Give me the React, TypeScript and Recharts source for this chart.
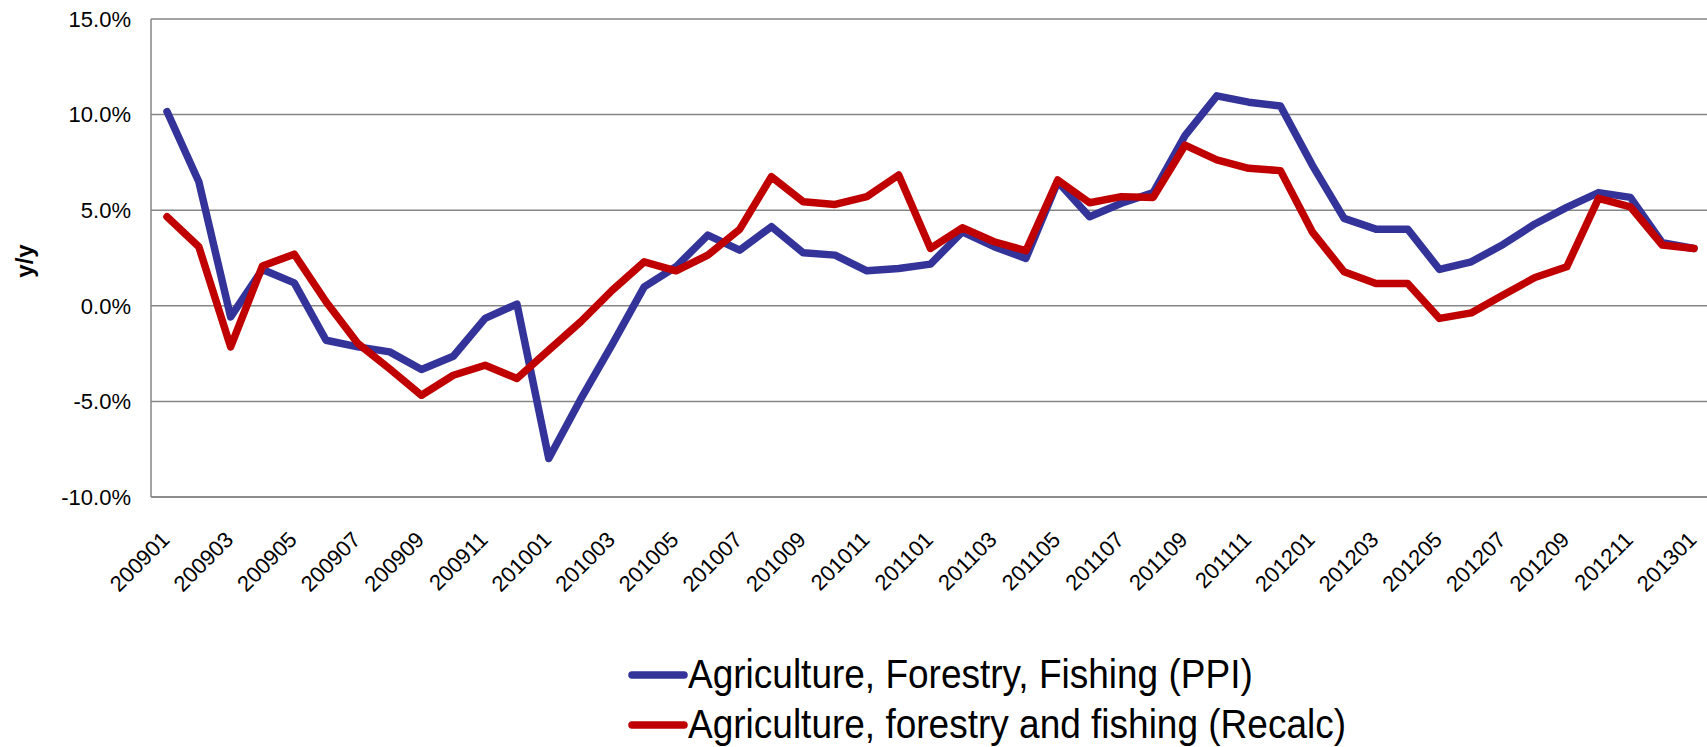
import React from 'react'
import { LineChart, Line, XAxis, YAxis, CartesianGrid, Legend } from 'recharts'

// monthly y/y change, Jan 2009 .. Jan 2013
const months = [
    '200901', '200902', '200903', '200904', '200905', '200906', '200907', '200908', '200909', '200910', '200911', '200912',
    '201001', '201002', '201003', '201004', '201005', '201006', '201007', '201008', '201009', '201010', '201011', '201012',
    '201101', '201102', '201103', '201104', '201105', '201106', '201107', '201108', '201109', '201110', '201111', '201112',
    '201201', '201202', '201203', '201204', '201205', '201206', '201207', '201208', '201209', '201210', '201211', '201212',
    '201301',
]

const ppiValues = [
    10.16, 6.49, -0.58, 1.9, 1.2, -1.8, -2.15, -2.41, -3.33, -2.64, -0.66, 0.09,
    -7.99, -4.9, -2.0, 0.99, 2.04, 3.7, 2.91, 4.14, 2.77, 2.65, 1.83, 1.95,
    2.18, 3.87, 3.09, 2.48, 6.49, 4.66, 5.36, 5.92, 8.9, 10.98, 10.65, 10.45,
    7.36, 4.57, 4.01, 4.01, 1.9, 2.3, 3.21, 4.28, 5.15, 5.92, 5.67, 3.3,
    3.0,
]

const recalcValues = [
    4.66, 3.09, -2.15, 2.08, 2.7, 0.21, -1.97, -3.3, -4.68, -3.63, -3.11, -3.8,
    -2.32, -0.84, 0.82, 2.3, 1.83, 2.65, 4.0, 6.75, 5.44, 5.3, 5.71, 6.84,
    3.0, 4.08, 3.35, 2.88, 6.58, 5.39, 5.71, 5.67, 8.4, 7.63, 7.19, 7.07,
    3.87, 1.78, 1.17, 1.17, -0.66, -0.37, 0.56, 1.48, 2.04, 5.62, 5.18, 3.18,
    3.0,
]

const yTicks = [-10, -5, 0, 5, 10, 15]

const ppiName = 'Agriculture, Forestry, Fishing (PPI)'
const recalcName = 'Agriculture, forestry and fishing (Recalc)'

const BLUE = '#333399'
const RED = '#C00000'
const GRID = '#868686'
const FONT = '"Liberation Sans", Arial, sans-serif'

const data = months.map((m, i) => ({ month: m, ppi: ppiValues[i], recalc: recalcValues[i] }))

function MonthTick({ x, y, payload }: any) {
    const tx = x + 4
    const ty = y + 44
    return (
        <text
            x={tx}
            y={ty}
            transform={`rotate(-45, ${tx}, ${ty})`}
            textAnchor="end"
            fontSize={22}
            fontFamily={FONT}
            fill="#000"
        >
            {payload.value}
        </text>
    )
}

function YLabel({ viewBox }: any) {
    const cy = viewBox.y + viewBox.height / 2 + 3
    return (
        <text
            x={24}
            y={cy}
            transform={`rotate(-90, 24, ${cy})`}
            textAnchor="middle"
            dominantBaseline="central"
            fontSize={24}
            fontWeight="bold"
            fontFamily={FONT}
            fill="#000"
        >
            y/y
        </text>
    )
}

function LegendBox() {
    const rows = [
        { name: ppiName, color: BLUE },
        { name: recalcName, color: RED },
    ]
    return (
        <div style={{ fontFamily: FONT, fontSize: 37, color: '#000' }}>
            {rows.map(r => (
                <div key={r.name} style={{ display: 'flex', alignItems: 'center', height: 50, whiteSpace: 'nowrap' }}>
                    <svg width={60} height={10} style={{ display: 'block' }}>
                        <line x1={4} y1={5} x2={56} y2={5} stroke={r.color} strokeWidth={7.5} strokeLinecap="round" />
                    </svg>
                    <span style={{ lineHeight: '50px', display: 'inline-block', transform: 'scaleY(1.08)' }}>{r.name}</span>
                </div>
            ))}
        </div>
    )
}

export default function App() {
    return (
        <div style={{ position: 'absolute', left: 0, top: 0, width: 1707, height: 747, overflow: 'hidden', background: '#fff' }}>
            <LineChart
                width={1720}
                height={747}
                data={data}
                margin={{ top: 19, right: 10, bottom: 0, left: 0 }}
            >
                <CartesianGrid vertical={false} stroke={GRID} strokeWidth={1.5} />
                <XAxis
                    dataKey="month"
                    interval={1}
                    height={250}
                    tickSize={0}
                    tickMargin={0}
                    tickLine={false}
                    padding={{ left: 16, right: 16 }}
                    axisLine={{ stroke: GRID, strokeWidth: 1.5 }}
                    tick={(p: any) => <MonthTick {...p} />}
                />
                <YAxis
                    domain={[-10, 15]}
                    ticks={yTicks}
                    width={151}
                    tickSize={0}
                    tickMargin={20}
                    tickLine={false}
                    axisLine={{ stroke: GRID, strokeWidth: 1.5 }}
                    tick={{ fontSize: 22, fill: '#000', fontFamily: FONT }}
                    tickFormatter={(v: number) => `${v.toFixed(1)}%`}
                    label={(p: any) => <YLabel {...p} />}
                />
                <Legend
                    layout="horizontal"
                    verticalAlign="middle"
                    align="center"
                    wrapperStyle={{ left: 628, top: 650, width: 'auto' }}
                    content={() => <LegendBox />}
                />
                <Line
                    dataKey="ppi"
                    name={ppiName}
                    stroke={BLUE}
                    strokeWidth={7.5}
                    strokeLinecap="round"
                    strokeLinejoin="round"
                    dot={false}
                    isAnimationActive={false}
                />
                <Line
                    dataKey="recalc"
                    name={recalcName}
                    stroke={RED}
                    strokeWidth={7.5}
                    strokeLinecap="round"
                    strokeLinejoin="round"
                    dot={false}
                    isAnimationActive={false}
                />
            </LineChart>
        </div>
    )
}
